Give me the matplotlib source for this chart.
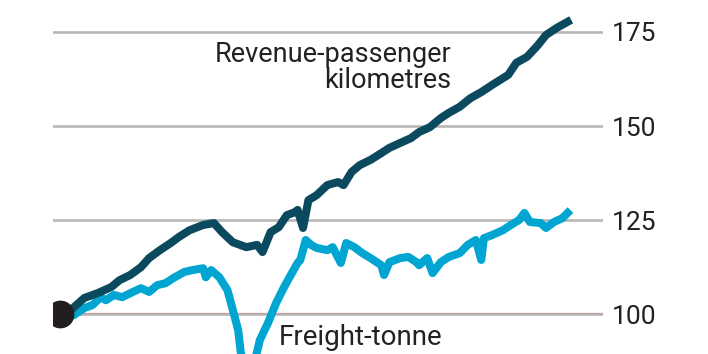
import matplotlib.pyplot as plt

# monthly index, start month = 100
rpk_month = [0, 4, 9, 14, 19, 22, 26, 30, 33, 37, 41, 44, 48, 53, 57, 60, 64, 69, 73, 75,
             78, 81, 84, 87, 88, 90, 92, 95, 99, 103, 105, 108, 111, 115, 119, 122, 126, 130,
             133, 137, 141, 144, 148, 152, 156, 160, 166, 169, 173, 177, 180, 184, 188]
rpk_index = [100.0, 101.1, 104.3, 105.6, 107.2, 109.0, 110.4, 112.5, 114.9, 117.0, 118.9, 120.5,
             122.3, 123.7, 124.2, 121.8, 119.1, 117.8, 118.4, 116.5, 121.8, 123.1, 126.3, 127.1,
             127.7, 122.9, 130.3, 131.6, 134.3, 135.1, 134.3, 137.8, 139.6, 141.0, 142.8, 144.2,
             145.5, 146.8, 148.4, 149.7, 152.1, 153.5, 155.1, 157.4, 159.0, 160.9, 163.6, 166.8,
             168.4, 171.5, 174.2, 176.1, 177.7]

ftk_month = [0, 5, 9, 12, 15, 17, 20, 23, 27, 30, 33, 36, 39, 42, 46, 49, 53, 54, 56, 59,
             62, 64, 66, 67, 69, 70, 72, 74, 77, 80, 83, 85, 88, 89, 91, 93, 95, 99, 101, 104,
             106, 109, 112, 115, 119, 120, 122, 126, 129, 132, 133, 136, 138, 141, 144, 148,
             151, 154, 156, 157, 160, 164, 167, 170, 172, 174, 178, 180, 183, 186, 188]
ftk_index = [100.0, 99.7, 101.6, 102.4, 104.5, 103.7, 105.1, 104.5, 105.9, 106.9, 105.9, 107.7,
             108.2, 109.6, 111.2, 111.7, 112.2, 109.8, 111.7, 109.8, 106.4, 101.1, 95.7, 89.4,
             85.0, 84.5, 87.0, 93.1, 97.6, 102.9, 107.2, 109.8, 113.6, 114.4, 119.7, 118.4,
             117.6, 117.0, 117.8, 113.6, 118.9, 117.8, 116.2, 114.9, 113.0, 110.4, 113.8, 114.9,
             115.2, 113.8, 113.0, 114.9, 110.9, 113.8, 115.2, 116.2, 118.4, 119.7, 114.4, 120.2,
             121.0, 122.3, 123.7, 125.0, 126.9, 124.5, 124.2, 122.9, 124.5, 125.5, 126.9]

yticks = [100, 125, 150, 175]

dark = "#0b4a5e"
light = "#00a5d2"

plt.rcParams['font.family'] = ['Roboto', 'DejaVu Sans']

fig = plt.figure(figsize=(7.08, 3.54), dpi=100)
ax = fig.add_axes([53 / 708, 0, 550 / 708, 1])

ax.set_xlim(-2.6, 201.1)
ax.set_ylim(89.4, 183.5)

ax.set_yticks(yticks)
ax.set_xticks([])
ax.yaxis.tick_right()
ax.tick_params(axis='y', length=0, pad=6.5, labelsize=19, labelcolor="#222222")
ax.grid(axis='y', color="#b8b8b8", linewidth=1.9, zorder=0)
for s in ax.spines.values():
    s.set_visible(False)

ax.axhline(100, color="#e3231b", linewidth=1.5, zorder=1)

ax.plot(ftk_month, ftk_index, color=light, linewidth=5.8, solid_joinstyle='round', zorder=2)
ax.plot(rpk_month, rpk_index, color=dark, linewidth=5.8, solid_joinstyle='round', zorder=3)
ax.plot([rpk_month[0]], [rpk_index[0]], 'o', color="#221e1f", markersize=19, zorder=4)

ax.text(145, 172.5, "Revenue-passenger\nkilometres", ha='right', va='top', fontsize=19.5,
        color="#222222", linespacing=0.95)
ax.text(81, 91.9, "Freight-tonne", ha='left', va='baseline', fontsize=20, color="#222222")

fig.savefig("out.png", dpi=100)
